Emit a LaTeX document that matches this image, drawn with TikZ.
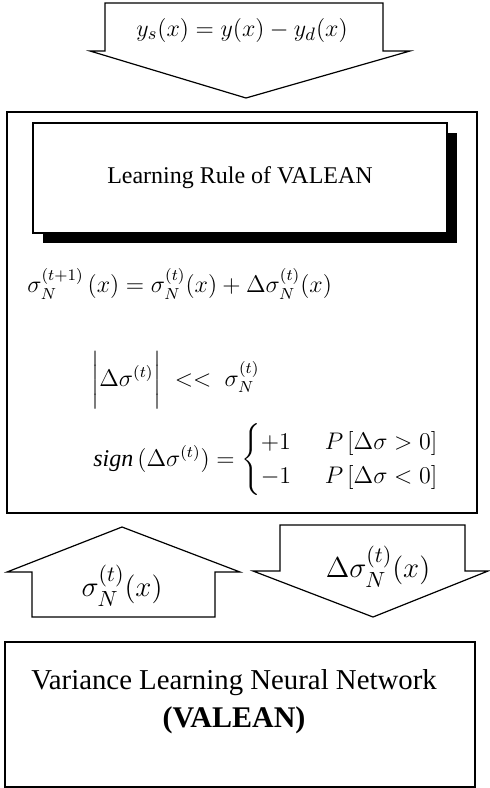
\documentclass[tikz,border=0pt]{standalone}
\usepackage{amsmath,amssymb}
\usepackage{fontspec}
\setmainfont{Liberation Serif}
\usepackage{tikz}
\usetikzlibrary{positioning,calc}

\begin{document}
\begin{tikzpicture}[
  x=0.5pt, y=-0.5pt,
  blockarrow/.style={draw=black, fill=white, line width=0.6pt, line join=miter},
  frame/.style={draw=black, line width=1.1pt},
  rulebox/.style={draw=black, fill=white, line width=0.8pt},
  shadow/.style={fill=black},
  lbl/.style={font=\fontsize{12}{14}\selectfont, inner sep=0pt},
  biglbl/.style={font=\fontsize{15}{18}\selectfont, inner sep=0pt},
  eq/.style={font=\fontsize{12}{14}\selectfont, anchor=west, inner sep=0pt}
]

\useasboundingbox (0,0) rectangle (489,788);

\draw[blockarrow] (105,3) -- (383,3) -- (383,51) -- (410,51) -- (246,98)
  -- (90,51) -- (105,51) -- cycle;
\node[lbl, font=\fontsize{12.5}{15}\selectfont] (ys) at (242,30) {$y_s(x) = y(x) - y_d(x)$};

\draw[frame] (7,112) rectangle (477,513);
\fill[shadow] (43,133) rectangle (457,243);
\draw[rulebox] (33,123) rectangle (447,233);
\node[lbl] (rule) at (240,178) {Learning Rule of VALEAN};

\node[eq] (upd) at (27,284)
  {$\sigma_N^{(t+1)}\,(x) = \sigma_N^{(t)}(x) + \Delta\sigma_N^{(t)}(x)$};
\node[eq] (small) at (91,380)
  {$\biggl|\Delta\sigma^{(t)}\biggr| \;<<\; \sigma_N^{(t)}$};
\node[eq] (sgn) at (93,460)
  {$\mathit{sign}\,(\Delta\sigma^{(t)}) =
   \begin{cases}
     +1 \hspace{0.4em} & P\,[\Delta\sigma > 0]\\
     -1 \hspace{0.4em} & P\,[\Delta\sigma < 0]
   \end{cases}$};

\draw[blockarrow] (32,617) -- (32,572) -- (7,572) -- (122,527) -- (240,572)
  -- (215,572) -- (215,617) -- cycle;
\node[biglbl] (sig) at (122,586) {$\sigma_N^{(t)}(x)$};

\draw[blockarrow] (280,525) -- (465,525) -- (465,571) -- (488,571) -- (373,617)
  -- (253,571) -- (280,571) -- cycle;
\node[biglbl] (dsig) at (378,567) {$\Delta\sigma_N^{(t)}(x)$};

\draw[frame] (5,642) rectangle (475,787);
\node[biglbl, font=\fontsize{14.4}{17}\selectfont] (vnn) at (234,683) {Variance Learning Neural Network};
\node[biglbl, font=\fontsize{15}{18}\selectfont\bfseries] (valean) at (234,720) {(VALEAN)};

\end{tikzpicture}
\end{document}
